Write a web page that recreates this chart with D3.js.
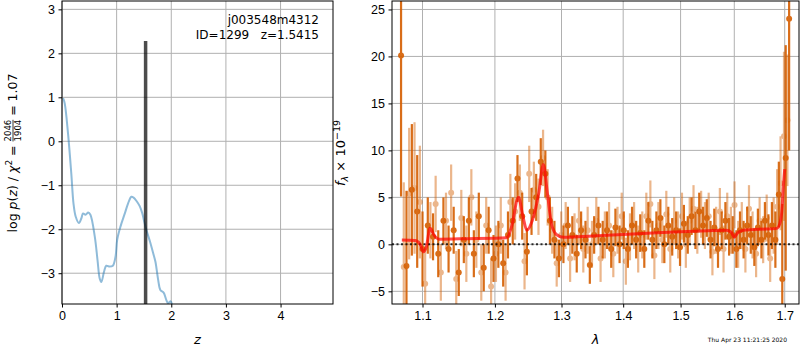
<!DOCTYPE html>
<html lang="en">
<head>
<meta charset="utf-8">
<title>Redshift fit</title>
<style>
  body { margin: 0; background: #fff; }
  svg { font-family: "DejaVu Sans", sans-serif; }
  .grid line { stroke: #b0b0b0; stroke-width: 1; }
  .axis path { display: none; }
  .axis line { stroke: #000; }
  .axis text { font-size: 12.5px; fill: #000; }
  .spine { fill: none; stroke: #000; stroke-width: 1; }
</style>
</head>
<body>
<script src="https://d3js.org/d3.v7.min.js"></script>
<script>
  // p(z) curve
  const zGrid = [0.02, 0.05, 0.11, 0.17, 0.21, 0.25, 0.31, 0.355, 0.385, 0.43, 0.48, 0.52, 0.60, 0.65, 0.69, 0.72,
    0.77, 0.81, 0.87, 0.93, 0.98, 1.01, 1.07, 1.15, 1.21, 1.27, 1.31, 1.37, 1.42, 1.47, 1.50, 1.545, 1.61,
    1.67, 1.71, 1.76, 1.80, 1.86, 1.91, 1.94, 1.99, 2.02, 2.06];
  const logPz = [0.98, 0.86, 0.18, -0.73, -1.41, -1.71, -1.86, -1.75, -1.64, -1.67, -1.62, -1.67, -2.17, -2.70, -3.12, -3.2,
    -2.96, -2.83, -2.85, -2.83, -2.62, -2.24, -1.94, -1.64, -1.41, -1.26, -1.28, -1.37, -1.47, -1.64, -1.80, -2.02, -2.28,
    -2.55, -2.74, -3.15, -3.38, -3.44, -3.61, -3.68, -3.64, -3.75, -3.95];
  const zBest = 1.53, zBestTop = 2.28;

  // spectrum, dark beam
  const waveA = [1.072, 1.079, 1.086, 1.093, 1.100, 1.107, 1.114, 1.121, 1.128, 1.135, 1.142, 1.149, 1.156, 1.163,
    1.170, 1.177, 1.184, 1.191, 1.198, 1.205, 1.212, 1.219, 1.226, 1.233, 1.240, 1.247, 1.254, 1.261, 1.268, 1.275,
    1.282, 1.289, 1.296, 1.303, 1.310, 1.317, 1.324, 1.331, 1.338, 1.345, 1.352, 1.359, 1.366, 1.373, 1.380, 1.387,
    1.394, 1.401, 1.408, 1.415, 1.422, 1.429, 1.436, 1.443, 1.450, 1.457, 1.464, 1.471, 1.478, 1.485, 1.492, 1.499,
    1.506, 1.513, 1.520, 1.527, 1.534, 1.541, 1.548, 1.555, 1.562, 1.569, 1.576, 1.583, 1.590, 1.597, 1.604, 1.611,
    1.618, 1.625, 1.632, 1.639, 1.646, 1.653, 1.660, 1.667, 1.674, 1.681, 1.688, 1.695, 1.702, 1.709];
  const fluxA = [20.1, -2.3, 5.8, 3.5, -0.5, 2.0, 0.8, -1.0, 2.5, -0.5, 1.5, -3.0, 0.5, 2.5,
    -1.0, 3.0, -2.5, 1.5, -1.5, 0.0, -2.0, 1.0, 2.5, 7.0, 3.0, -0.8, 3.5, 5.0, 8.8, 7.5,
    2.5, 0.5, -1.5, 0.0, 2.0, 1.0, -1.0, 1.5, 0.5, -2.2, 1.0, 2.0, 0.5, 1.5, -0.5, 1.8,
    0.0, 1.5, -0.5, 2.0, 0.5, 1.2, -0.5, 2.5, 0.5, 1.5, 2.8, 0.0, 2.0, 0.8, 1.5, -0.3,
    2.2, 1.0, 3.0, 1.5, 3.5, 2.0, 2.8, 0.5, 1.8, -0.5, 1.5, 2.5, 0.8, 1.0, -0.5, 1.5,
    0.5, 2.0, 1.0, -0.3, 1.8, 0.5, 2.5, 1.0, 2.0, 0.5, 5.3, -3.7, 9.2, 24.0];
  const errA = [15, 8, 7, 6, 4, 3, 2.5, 2.5, 2.5, 2.5, 2.5, 2.5, 2.5, 2.5,
    2.5, 2.5, 2.5, 2.5, 2.5, 2.5, 2.5, 2.5, 2.5, 2.5, 2.5, 2.5, 2.5, 2.5, 2.5, 2.5,
    2.5, 2, 2, 2, 2, 2, 2, 2, 2, 2, 2, 2, 2, 2, 2, 2,
    2, 2, 2, 2, 2, 2, 2, 2, 2, 2, 2, 2, 2, 2, 2, 2,
    2, 2, 2, 2, 2, 2, 2, 2, 2, 2, 2, 2, 2, 2, 2, 2,
    2, 2, 2, 2, 2, 2, 2, 2.2, 2.5, 3, 3.5, 8, 12, 14];

  // spectrum, light beam
  const waveB = [1.0755, 1.0825, 1.0895, 1.0965, 1.1035, 1.1105, 1.1175, 1.1245, 1.1315, 1.1385, 1.1455, 1.1525,
    1.1595, 1.1665, 1.1735, 1.1805, 1.1875, 1.1945, 1.2015, 1.2085, 1.2155, 1.2225, 1.2295, 1.2365, 1.2435, 1.2505,
    1.2575, 1.2645, 1.2715, 1.2785, 1.2855, 1.2925, 1.2995, 1.3065, 1.3135, 1.3205, 1.3275, 1.3345, 1.3415, 1.3485,
    1.3555, 1.3625, 1.3695, 1.3765, 1.3835, 1.3905, 1.3975, 1.4045, 1.4115, 1.4185, 1.4255, 1.4325, 1.4395, 1.4465,
    1.4535, 1.4605, 1.4675, 1.4745, 1.4815, 1.4885, 1.4955, 1.5025, 1.5095, 1.5165, 1.5235, 1.5305, 1.5375, 1.5445,
    1.5515, 1.5585, 1.5655, 1.5725, 1.5795, 1.5865, 1.5935, 1.6005, 1.6075, 1.6145, 1.6215, 1.6285, 1.6355, 1.6425,
    1.6495, 1.6565, 1.6635, 1.6705, 1.6775, 1.6845, 1.6915, 1.6985, 1.7055];
  const fluxB = [-2.4, 5.4, 6.0, 4.5, -4.2, 1.5, 4.3, -3.0, 2.5, 5.5, -3.7, 2.8,
    -1.0, 5.0, 0.5, -3.0, 2.0, -4.5, -1.0, 2.0, -3.0, 4.5, 3.5, 5.5, -1.8, 7.5,
    5.8, 4.0, 9.2, 5.0, 1.5, -2.0, 1.0, 2.0, -1.5, 0.8, 2.5, -0.5, 1.5, 0.0,
    2.5, -1.5, 1.0, 2.0, -1.0, 1.5, 3.0, -1.8, 0.8, 2.0, -0.5, 1.0, 3.0, 4.3,
    -1.2, 2.0, 0.5, 3.2, -0.5, 2.5, 1.0, 3.0, 0.0, 2.5, 3.8, 1.5, 3.2, 2.0,
    3.0, -0.8, 1.5, 3.5, -0.5, 3.0, 1.5, 4.2, 0.0, 2.0, -0.5, 3.8, 1.0, -1.0,
    2.5, 0.5, 2.8, -1.5, 2.0, 4.0, 6.5, 11.5, 13.2];
  const errB = [9, 7, 7, 6, 4, 3, 3, 3, 3, 3, 3, 3,
    3, 3, 3, 3, 3, 3, 3, 3, 3, 3, 3, 3, 3, 3,
    3, 3, 3, 3, 2.5, 2.5, 2.5, 2.5, 2.5, 2.5, 2.5, 2.5, 2.5, 2.5,
    2.5, 2.5, 2.5, 2.5, 2.5, 2.5, 2.5, 2.5, 2.5, 2.5, 2.5, 2.5, 2.5, 2.5,
    2.5, 2.5, 2.5, 2.5, 2.5, 2.5, 2.5, 2.5, 2.5, 2.5, 2.5, 2.5, 2.5, 2.5,
    2.5, 2.5, 2.5, 2.5, 2.5, 2.5, 2.5, 2.5, 2.5, 2.5, 2.5, 2.5, 2.5, 2.5,
    2.5, 2.5, 2.5, 2.5, 3, 4, 5, 9, 7];

  // best-fit template
  const modelWave = [1.073, 1.090, 1.097, 1.1014, 1.105, 1.110, 1.116, 1.122, 1.160, 1.217, 1.224, 1.2345, 1.241,
    1.247, 1.255, 1.265, 1.272, 1.278, 1.285, 1.293, 1.303, 1.350, 1.400, 1.450, 1.500, 1.550, 1.585, 1.594, 1.600,
    1.606, 1.618, 1.650, 1.684, 1.690, 1.694, 1.697, 1.700];
  const modelFlux = [0.45, 0.4, 0.0, -0.8, -0.3, 1.7, 0.9, 0.55, 0.6, 0.7, 1.8, 5.0, 3.0,
    1.5, 2.5, 5.5, 8.5, 5.5, 2.0, 1.0, 0.75, 0.9, 1.05, 1.2, 1.35, 1.45, 1.5, 1.3, 0.75,
    1.2, 1.5, 1.6, 1.7, 2.2, 3.5, 6.0, 8.0];

  const zTicks = [0, 1, 2, 3, 4];
  const pTicks = [-3, -2, -1, 0, 1, 2, 3];
  const waveTicks = [1.1, 1.2, 1.3, 1.4, 1.5, 1.6, 1.7];
  const fluxTicks = [-5, 0, 5, 10, 15, 20, 25];

  const W = 800, H = 350;
  const left = {x0: 62, x1: 333, y0: 1, y1: 304};
  const right = {x0: 392, x1: 799, y0: 1, y1: 304};
  const beamColor = "#d55e00";

  const svg = d3.select("body").append("svg")
    .attr("width", W).attr("height", H);

  const defs = svg.append("defs");
  [["clipL", left], ["clipR", right]].forEach(function(c) {
    defs.append("clipPath").attr("id", c[0]).append("rect")
      .attr("x", c[1].x0).attr("y", c[1].y0)
      .attr("width", c[1].x1 - c[1].x0).attr("height", c[1].y1 - c[1].y0);
  });

  const xz = d3.scaleLinear().domain([0, 4.96]).range([left.x0, left.x1]);
  const yz = d3.scaleLinear().domain([-3.70, 3.19]).range([left.y1, left.y0]);
  const xw = d3.scaleLog().domain([1.0604, 1.7294]).range([right.x0, right.x1]);
  const yf = d3.scaleLinear().domain([-6.35, 25.9]).range([right.y1, right.y0]);

  function grid(box, xs, ys, xt, yt) {
    const g = svg.append("g").attr("class", "grid");
    g.selectAll("line.v").data(xt).enter().append("line")
      .attr("x1", d => xs(d)).attr("x2", d => xs(d))
      .attr("y1", box.y0).attr("y2", box.y1);
    g.selectAll("line.h").data(yt).enter().append("line")
      .attr("y1", d => ys(d)).attr("y2", d => ys(d))
      .attr("x1", box.x0).attr("x2", box.x1);
  }

  function axes(box, xs, ys, xt, yt, xfmt) {
    svg.append("g").attr("class", "axis")
      .attr("transform", "translate(0," + box.y1 + ")")
      .call(d3.axisBottom(xs).tickValues(xt).tickSize(3.5).tickPadding(3.5).tickFormat(xfmt));
    svg.append("g").attr("class", "axis")
      .attr("transform", "translate(" + box.x0 + ",0)")
      .call(d3.axisLeft(ys).tickValues(yt).tickSize(3.5).tickPadding(3.5)
        .tickFormat(d => d < 0 ? "\u2212" + Math.abs(d) : String(d)));
    svg.append("rect").attr("class", "spine")
      .attr("x", box.x0).attr("y", box.y0)
      .attr("width", box.x1 - box.x0).attr("height", box.y1 - box.y0);
  }

  // ---- left panel: p(z)
  grid(left, xz, yz, zTicks, pTicks);

  const gl = svg.append("g").attr("clip-path", "url(#clipL)");
  gl.append("path")
    .datum(zGrid.map((z, i) => [z, logPz[i]]))
    .attr("fill", "none")
    .attr("stroke", "#1f77b4").attr("stroke-opacity", 0.5)
    .attr("stroke-width", 2)
    .attr("d", d3.line().x(d => xz(d[0])).y(d => yz(d[1])).curve(d3.curveCatmullRom));
  gl.append("line")
    .attr("x1", xz(zBest)).attr("x2", xz(zBest))
    .attr("y1", yz(-3.70)).attr("y2", yz(zBestTop))
    .attr("stroke", "#000").attr("stroke-opacity", 0.7).attr("stroke-width", 3.5);

  axes(left, xz, yz, zTicks, pTicks, d => String(d));

  svg.append("text").attr("x", 319).attr("y", 24)
    .attr("text-anchor", "end").attr("font-size", 12).text("j003548m4312");
  svg.append("text").attr("x", 319).attr("y", 39)
    .attr("text-anchor", "end").attr("font-size", 12).attr("xml:space", "preserve")
    .text("ID=1299   z=1.5415");

  // ---- right panel: spectrum
  grid(right, xw, yf, waveTicks, fluxTicks);

  const gr = svg.append("g").attr("clip-path", "url(#clipR)");

  function beam(wave, flux, err, opacity) {
    const pts = wave.map((w, i) => ({w: w, f: flux[i], e: err[i]}));
    const g = gr.append("g").attr("opacity", opacity);
    g.selectAll("line").data(pts).enter().append("line")
      .attr("x1", d => xw(d.w)).attr("x2", d => xw(d.w))
      .attr("y1", d => yf(d.f - d.e)).attr("y2", d => yf(d.f + d.e))
      .attr("stroke", beamColor).attr("stroke-width", 2.2);
    g.selectAll("circle").data(pts).enter().append("circle")
      .attr("cx", d => xw(d.w)).attr("cy", d => yf(d.f)).attr("r", 3)
      .attr("fill", beamColor);
  }

  beam(waveB, fluxB, errB, 0.45);
  beam(waveA, fluxA, errA, 0.9);

  gr.append("line")
    .attr("x1", right.x0).attr("x2", right.x1)
    .attr("y1", yf(0)).attr("y2", yf(0))
    .attr("stroke", "#000").attr("stroke-opacity", 0.8)
    .attr("stroke-width", 2).attr("stroke-dasharray", "2,2.5");

  gr.append("path")
    .datum(modelWave.map((w, i) => [w, modelFlux[i]]))
    .attr("fill", "none").attr("stroke", "red").attr("stroke-opacity", 0.7)
    .attr("stroke-width", 3)
    .attr("d", d3.line().x(d => xw(d[0])).y(d => yf(d[1])).curve(d3.curveMonotoneX));

  axes(right, xw, yf, waveTicks, fluxTicks, d3.format(".1f"));

  // ---- axis labels
  svg.append("text").attr("x", (left.x0 + left.x1) / 2).attr("y", 344)
    .attr("text-anchor", "middle").attr("font-size", 13).attr("font-style", "italic").text("z");
  svg.append("text").attr("x", (right.x0 + right.x1) / 2).attr("y", 344)
    .attr("text-anchor", "middle").attr("font-size", 13).attr("font-style", "italic").text("\u03bb");

  // left y label with fraction
  const yl = svg.append("g").attr("transform", "translate(17,153) rotate(-90)");
  const t1 = yl.append("text").attr("font-size", 12.5).attr("xml:space", "preserve");
  t1.append("tspan").text("log ");
  t1.append("tspan").attr("font-style", "italic").text("p");
  t1.append("tspan").text("(");
  t1.append("tspan").attr("font-style", "italic").text("z");
  t1.append("tspan").text(") / ");
  t1.append("tspan").attr("font-style", "italic").text("\u03c7");
  t1.append("tspan").attr("font-size", 9).attr("dy", -5).text("2");
  t1.append("tspan").attr("dy", 5).text(" = ");
  const w1 = t1.node().getComputedTextLength();
  const num = yl.append("text").attr("font-size", 8.5).attr("x", w1).attr("y", -6).text("2046");
  const fw = num.node().getComputedTextLength();
  yl.append("text").attr("font-size", 8.5).attr("x", w1).attr("y", 4).text("1904");
  yl.append("line").attr("x1", w1).attr("x2", w1 + fw).attr("y1", -4).attr("y2", -4)
    .attr("stroke", "#000").attr("stroke-width", 0.8);
  const t3 = yl.append("text").attr("font-size", 12.5).attr("x", w1 + fw).attr("xml:space", "preserve")
    .text(" = 1.07");
  const total = w1 + fw + t3.node().getComputedTextLength();
  yl.selectAll("text, line").attr("transform", "translate(" + (-total / 2) + ",0)");

  // right y label
  const yr = svg.append("text").attr("font-size", 13).attr("xml:space", "preserve")
    .attr("transform", "translate(345,153) rotate(-90)")
    .attr("text-anchor", "middle");
  yr.append("tspan").attr("font-style", "italic").text("f");
  yr.append("tspan").attr("font-style", "italic").attr("font-size", 9.5).attr("dy", 3).text("\u03bb");
  yr.append("tspan").attr("dy", -3).text(" \u00d7 10");
  yr.append("tspan").attr("font-size", 9.5).attr("dy", -5).text("\u221219");

  svg.append("text").attr("x", 787).attr("y", 342)
    .attr("text-anchor", "end").attr("font-size", 6).text("Thu Apr 23 11:21:25 2020");
</script>
</body>
</html>
